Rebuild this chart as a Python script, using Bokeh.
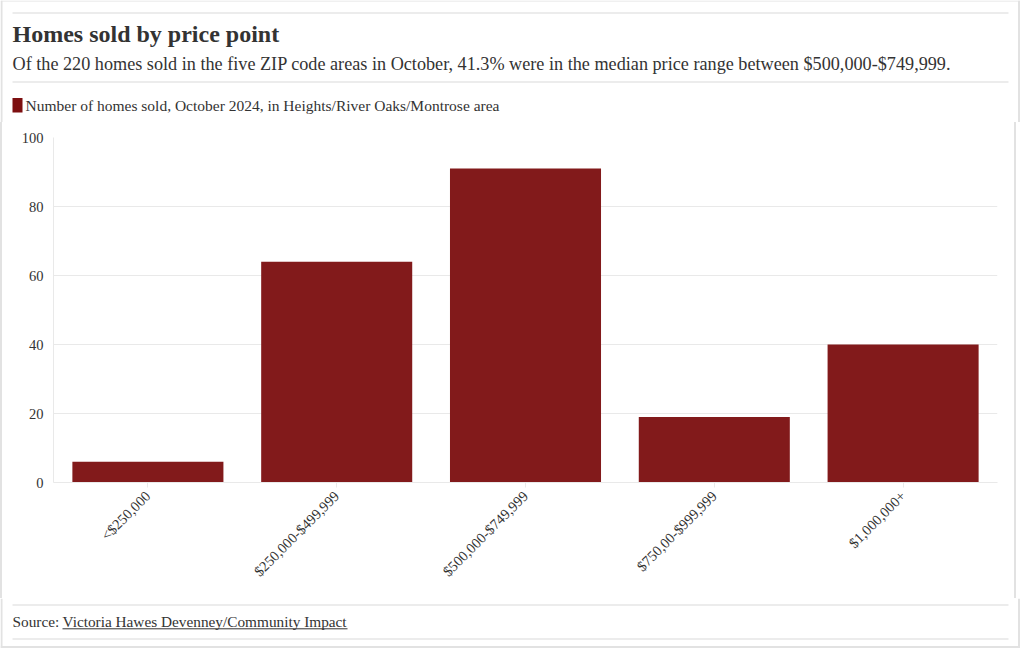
from bokeh.plotting import figure
from bokeh.layouts import column
from bokeh.models import Range1d, FactorRange, FixedTicker
from bokeh.core.properties import value
from bokeh.embed import file_html
from bokeh.resources import INLINE

# ---- data ----
categories = ["<$250,000", "$250,000-$499,999", "$500,000-$749,999", "$750,00-$999,999", "$1,000,000+"]
homes_sold = [6, 64, 91, 19, 40]
y_ticks = [0, 20, 40, 60, 80, 100]

title_text = "Homes sold by price point"
subtitle_text = ("Of the 220 homes sold in the five ZIP code areas in October, 41.3% were in the "
                 "median price range between $500,000-$749,999.")
legend_text = "Number of homes sold, October 2024, in Heights/River Oaks/Montrose area"
source_label = "Source:"
source_link = "Victoria Hawes Devenney/Community Impact"

FONT = "Liberation Serif"
BAR = "#821a1b"
KEY = "#7d0f10"
TXT = "#333333"
RULE = "#d9d9d9"
EDGE = "#e2e2e2"
GRID = "#e9e9e9"
W = 1020
HH, MH, FH = 122, 476, 50   # header / chart / footer heights
FL, FR, FT, FB = 53, 997, 137, 482   # chart frame edges on the page
BASE_SHIFT = 0.35           # svg text baseline correction (fraction of font size)
EW = 2                      # page edge width


def blank(h):
    f = figure(width=W, height=h, x_range=Range1d(0, W), y_range=Range1d(h, 0),
               toolbar_location=None, output_backend="svg",
               x_axis_type=None, y_axis_type=None, min_border=0, frame_align=False)
    f.grid.visible = False
    f.outline_line_color = None
    f.segment(x0=[1, 1018.5], y0=[0, 0], x1=[1, 1018.5], y1=[h, h], line_color=EDGE, line_width=2)
    return f


def txt(f, x, y, s, size, bold=False):
    f.text(x=[x], y=[y - BASE_SHIFT * size], text=[s], text_font=value(FONT),
           text_font_size=value(f"{size}px"),
           text_font_style="bold" if bold else "normal", text_color=TXT,
           text_baseline="alphabetic", text_align="left")


# ---- header ----
head = blank(HH)
head.segment(x0=[0], y0=[0.5], x1=[W], y1=[0.5], line_color=EDGE, line_width=1)
head.segment(x0=[12, 12], y0=[12.5, 81.5], x1=[1008, 1008], y1=[12.5, 81.5], line_color=RULE, line_width=1)
txt(head, 12, 42.3, title_text, 24, bold=True)
txt(head, 12, 69.4, subtitle_text, 18.2)
head.quad(left=[12], right=[22], top=[97.5], bottom=[112], fill_color=KEY, line_color=None)
txt(head, 25, 110.8, legend_text, 15.5)

# ---- main chart ----
p = figure(width=W - 2 * EW, height=MH, x_range=FactorRange(*categories), y_range=Range1d(0, 100),
           toolbar_location=None, output_backend="svg", frame_align=False,
           min_border_left=FL - EW, min_border_right=W - FR - EW,
           min_border_top=FT - HH, min_border_bottom=HH + MH - FB)
p.vbar(x=categories, top=homes_sold, width=0.8, fill_color=BAR, line_color=None)
p.outline_line_color = None
p.xgrid.grid_line_color = None
p.ygrid.grid_line_color = GRID
p.yaxis.ticker = FixedTicker(ticks=y_ticks)
p.yaxis.axis_line_color = GRID
p.yaxis.major_tick_line_color = None
p.yaxis.minor_tick_line_color = None
p.yaxis.major_tick_out = 0
p.yaxis.major_tick_in = 0
p.yaxis.major_label_standoff = 10
p.xaxis.axis_line_color = GRID
p.xaxis.major_tick_line_color = GRID
p.xaxis.major_tick_in = 0
p.xaxis.major_tick_out = 5
p.xaxis.major_label_orientation = 0.785398
p.xaxis.major_label_standoff = 6
for ax in (p.xaxis, p.yaxis):
    ax.major_label_text_font = FONT
    ax.major_label_text_font_size = "14.5px"
    ax.major_label_text_color = TXT
p.styles = {"border-left": f"{EW}px solid {EDGE}", "border-right": f"{EW}px solid {EDGE}"}

# ---- footer ----
Y0 = HH + MH
foot = blank(FH)
foot.segment(x0=[12, 12], y0=[604.5 - Y0, 638.5 - Y0], x1=[1008, 1008], y1=[604.5 - Y0, 638.5 - Y0],
             line_color=RULE, line_width=1)
foot.segment(x0=[0], y0=[FH - 1.5], x1=[W], y1=[FH - 1.5], line_color=EDGE, line_width=2)
txt(foot, 12, 626.7 - Y0, source_label, 15.3)
txt(foot, 62, 626.7 - Y0, source_link, 15.3)
foot.segment(x0=[62], y0=[628.3 - Y0], x1=[347], y1=[628.3 - Y0], line_color=TXT, line_width=1)

layout = column(head, p, foot, spacing=0)
open("out.html", "w").write(file_html(layout, INLINE))
